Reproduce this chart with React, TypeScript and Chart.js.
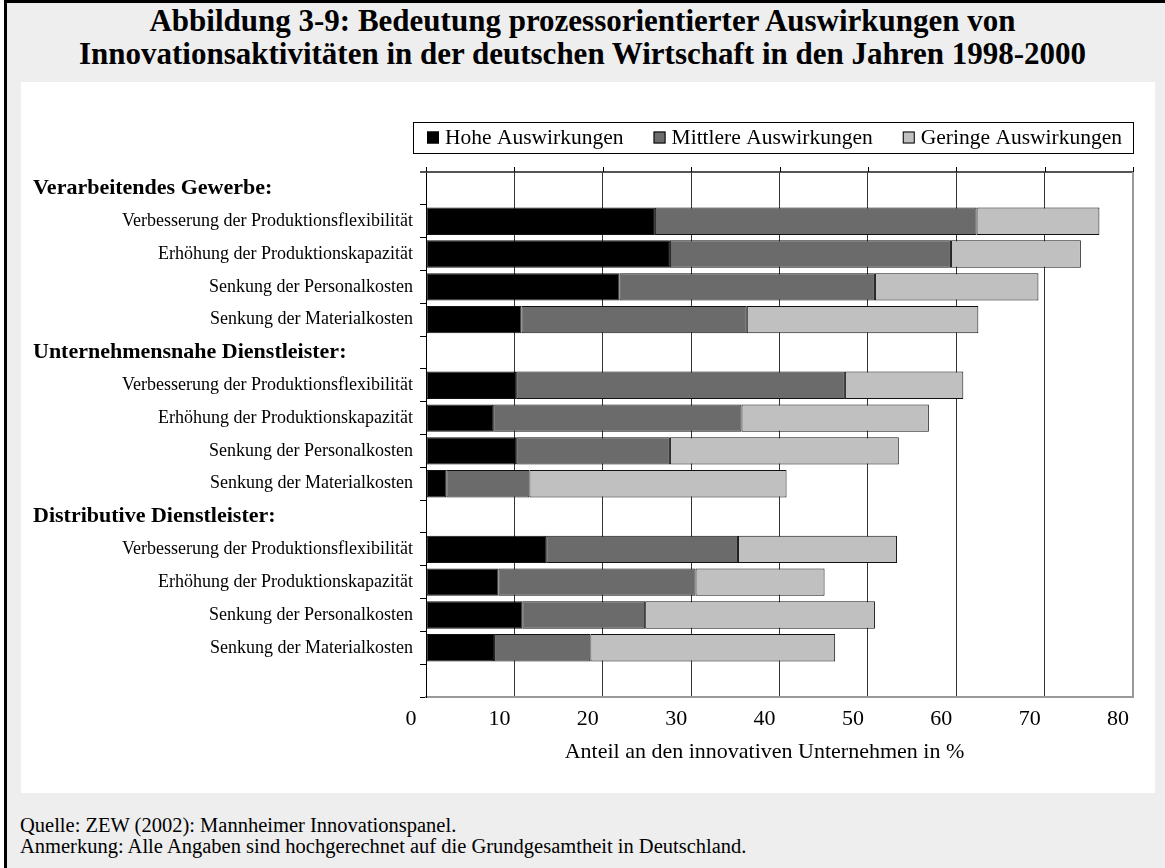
import React, { useEffect, useRef } from "react";
import Chart from "chart.js/auto";

const FONT = "'Liberation Serif', 'Times New Roman', serif";

const categories = [
  "Verarbeitendes Gewerbe:",
  "Verbesserung der Produktionsflexibilität",
  "Erhöhung der Produktionskapazität",
  "Senkung der Personalkosten",
  "Senkung der Materialkosten",
  "Unternehmensnahe Dienstleister:",
  "Verbesserung der Produktionsflexibilität",
  "Erhöhung der Produktionskapazität",
  "Senkung der Personalkosten",
  "Senkung der Materialkosten",
  "Distributive Dienstleister:",
  "Verbesserung der Produktionsflexibilität",
  "Erhöhung der Produktionskapazität",
  "Senkung der Personalkosten",
  "Senkung der Materialkosten",
  "",
];
const headerRows = [0, 5, 10];

const seriesNames = ["Hohe Auswirkungen", "Mittlere Auswirkungen", "Geringe Auswirkungen"];
const hohe = [null, 25.9, 27.6, 21.9, 10.8, null, 10.2, 7.6, 10.2, 2.3, null, 13.6, 8.2, 10.9, 7.7, null];
const mittlere = [null, 36.4, 31.8, 28.9, 25.5, null, 37.2, 28.1, 17.4, 9.4, null, 21.7, 22.3, 13.9, 10.9, null];
const geringe = [null, 13.9, 14.7, 18.5, 26.2, null, 13.4, 21.2, 25.9, 29.1, null, 18.0, 14.6, 26.0, 27.7, null];
const seriesColors = ["#000000", "#6b6b6b", "#c0c0c0"];

const xTicks = [0, 10, 20, 30, 40, 50, 60, 70, 80];
const xTitle = "Anteil an den innovativen Unternehmen in %";
const titleLines = [
  "Abbildung 3-9: Bedeutung prozessorientierter Auswirkungen von",
  "Innovationsaktivitäten in der deutschen Wirtschaft in den Jahren 1998-2000",
];
const footerLines = [
  "Quelle: ZEW (2002): Mannheimer Innovationspanel.",
  "Anmerkung: Alle Angaben sind hochgerechnet auf die Grundgesamtheit in Deutschland.",
];

const decorPlugin = {
  id: "decor",
  afterDraw(chart: any) {
    const ctx = chart.ctx;
    const area = chart.chartArea;
    const xs = chart.scales.x;
    const ys = chart.scales.y;
    ctx.save();
    // top frame line with tick marks
    ctx.strokeStyle = "#555";
    ctx.lineWidth = 2;
    ctx.beginPath();
    ctx.moveTo(area.left - 6, area.top);
    ctx.lineTo(area.right, area.top);
    ctx.stroke();
    ctx.strokeStyle = "#000";
    ctx.lineWidth = 1;
    xTicks.forEach((v) => {
      const px = Math.round(xs.getPixelForValue(v)) + 0.5;
      ctx.beginPath();
      ctx.moveTo(px, area.top - 5);
      ctx.lineTo(px, area.top);
      ctx.stroke();
    });
    // right frame
    ctx.strokeStyle = "#999";
    ctx.lineWidth = 2;
    ctx.beginPath();
    ctx.moveTo(area.right, area.top);
    ctx.lineTo(area.right, area.bottom);
    ctx.stroke();

    // x axis title
    ctx.fillStyle = "#000";
    ctx.font = `22px ${FONT}`;
    ctx.textAlign = "center";
    ctx.textBaseline = "middle";
    ctx.fillText(xTitle, (area.left + area.right) / 2 - 15, area.bottom + 55);

    // group headers
    ctx.font = `bold 22px ${FONT}`;
    ctx.textAlign = "left";
    headerRows.forEach((i) => {
      ctx.fillText(categories[i], 12, ys.getPixelForValue(i));
    });

    // legend box
    const lx = area.left - 13;
    const ly = area.top - 50;
    const lw = area.right - lx;
    const lh = 31;
    ctx.fillStyle = "#fff";
    ctx.fillRect(lx, ly, lw, lh);
    ctx.strokeStyle = "#000";
    ctx.lineWidth = 1;
    ctx.strokeRect(Math.round(lx) + 0.5, Math.round(ly) + 0.5, Math.round(lw), lh);
    ctx.font = `21.5px ${FONT}`;
    let x = area.left + 1;
    const cy = ly + lh / 2;
    chart.data.datasets.forEach((ds: any) => {
      ctx.fillStyle = ds.backgroundColor;
      ctx.fillRect(x, cy - 6, 12, 12);
      ctx.strokeStyle = "#000";
      ctx.strokeRect(x + 0.5, cy - 5.5, 11, 11);
      ctx.fillStyle = "#000";
      ctx.fillText(ds.label, x + 18, cy + 1);
      x += 18 + ctx.measureText(ds.label).width + 30;
    });
    ctx.restore();
  },
};

export default function App() {
  const ref = useRef<HTMLCanvasElement | null>(null);
  useEffect(() => {
    if (!ref.current) return;
    const data = [hohe, mittlere, geringe];
    const chart = new Chart(ref.current, {
      type: "bar",
      data: {
        labels: categories,
        datasets: seriesNames.map((name, i) => ({
          label: name,
          data: data[i],
          backgroundColor: seriesColors[i],
          borderColor: "#111",
          borderWidth: 1,
          borderSkipped: false,
          barPercentage: 0.835,
          categoryPercentage: 1,
        })),
      },
      options: {
        indexAxis: "y",
        responsive: false,
        animation: false,
        layout: { padding: { top: 90, right: 22, bottom: 28, left: 0 } },
        plugins: {
          legend: { display: false },
          tooltip: { enabled: false },
          title: { display: false },
        },
        scales: {
          x: {
            stacked: true,
            min: 0,
            max: 80,
            afterFit: (scale: any) => {
              scale.height = 68;
            },
            ticks: {
              stepSize: 10,
              color: "#000",
              font: { family: FONT, size: 22 },
              padding: 9,
              labelOffset: -15,
              maxRotation: 0,
            },
            grid: { color: "#333", lineWidth: 1, drawTicks: false },
            border: { display: true, color: "#999", width: 2 },
            title: { display: false, text: xTitle },
          },
          y: {
            stacked: true,
            afterFit: (scale: any) => {
              scale.width = 405;
            },
            ticks: {
              autoSkip: false,
              color: "#000",
              font: { family: FONT, size: 18 },
              padding: 7,
              callback: (_v: any, i: number) => (headerRows.includes(i) ? "" : categories[i]),
            },
            grid: {
              drawOnChartArea: false,
              drawTicks: true,
              tickLength: 6,
              color: "#000",
              offset: true,
            },
            border: { display: true, color: "#000", width: 1 },
          },
        },
      },
      plugins: [decorPlugin],
    });
    return () => chart.destroy();
  }, []);

  return (
    <div
      style={{
        position: "absolute",
        left: 0,
        top: 0,
        width: 1165,
        height: 868,
        overflow: "hidden",
        background: "#fff",
        fontFamily: FONT,
      }}
    >
      <div
        style={{
          position: "absolute",
          left: 4,
          top: 0,
          width: 1180,
          height: 900,
          border: "3px solid #000",
          background: "#eeeeee",
          boxSizing: "border-box",
        }}
      />
      <div
        style={{
          position: "absolute",
          left: 0,
          top: 4,
          width: 1165,
          textAlign: "center",
          fontWeight: "bold",
          fontSize: 31,
          lineHeight: "33px",
          color: "#000",
        }}
      >
        {titleLines.map((t, i) => (
          <div key={i}>{t}</div>
        ))}
      </div>
      <div
        style={{
          position: "absolute",
          left: 21,
          top: 82,
          width: 1134,
          height: 711,
          background: "#fff",
        }}
      >
        <canvas ref={ref} width={1134} height={711} style={{ display: "block" }} />
      </div>
      <div
        style={{
          position: "absolute",
          left: 20,
          top: 815,
          fontSize: 20.5,
          lineHeight: "21px",
          color: "#000",
        }}
      >
        {footerLines.map((t, i) => (
          <div key={i}>{t}</div>
        ))}
      </div>
    </div>
  );
}
